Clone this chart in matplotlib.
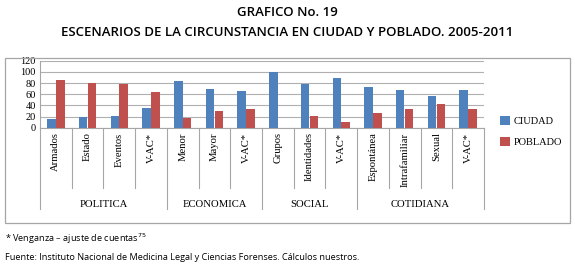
import matplotlib
matplotlib.use('Agg')
import matplotlib.pyplot as plt
from matplotlib.patches import Rectangle
import numpy as np

# datos
categorias = ['Armados', 'Estado', 'Eventos', 'V-AC*',
              'Menor', 'Mayor', 'V-AC*',
              'Grupos', 'Identidades', 'V-AC*',
              'Espontánea', 'Intrafamiliar', 'Sexual', 'V-AC*']
grupos = ['POLITICA', 'ECONOMICA', 'SOCIAL', 'COTIDIANA']
tam_grupos = [4, 3, 3, 4]
ciudad = [15, 19, 21, 36, 83, 70, 66, 100, 79, 89, 73, 67, 57, 67]
poblado = [85, 81, 79, 64, 17, 30, 34, 0, 21, 11, 27, 33, 43, 33]

azul = '#4F81BD'
rojo = '#C0504D'
serif = 'Liberation Serif'

fig = plt.figure(figsize=(5.75, 2.69), dpi=100)
fig.patch.set_facecolor('white')

# caja exterior
fig.patches.append(Rectangle((0.009, 0.172), 0.983, 0.614, transform=fig.transFigure,
                             fill=False, edgecolor='#A6A6A6', linewidth=0.9))

ax = fig.add_axes([0.0696, 0.525, 0.772, 0.249])
x = np.arange(len(categorias))
w = 0.27
ax.bar(x - 0.14, ciudad, w, color=azul, label='CIUDAD', zorder=3)
ax.bar(x + 0.14, poblado, w, color=rojo, label='POBLADO', zorder=3)

ax.set_xlim(-0.5, len(categorias) - 0.5)
ax.set_ylim(0, 120)
ax.set_yticks(range(0, 121, 20))
ax.yaxis.grid(True, color='#B0B0B0', linewidth=0.8, zorder=0)
ax.tick_params(axis='y', length=0, pad=3, labelsize=7.5)
for t in ax.get_yticklabels():
    t.set_fontfamily(serif)
ax.set_xticks([])
for s in ['top', 'right']:
    ax.spines[s].set_visible(False)
ax.spines['left'].set_color('#A6A6A6')
ax.spines['bottom'].set_color('#A6A6A6')
ax.spines['left'].set_linewidth(0.8)
ax.spines['bottom'].set_linewidth(0.8)

tr = ax.get_xaxis_transform()
# etiquetas de categoria
for i, c in enumerate(categorias):
    ax.text(i, -0.07, c, rotation=90, ha='center', va='top', transform=tr,
            fontsize=7.7, fontfamily=serif)

# lineas separadoras
bordes_grupo = np.cumsum([0] + tam_grupos) - 0.5
for b in np.arange(len(categorias) + 1) - 0.5:
    fondo = -1.22 if b in bordes_grupo else -0.9
    ax.plot([b, b], [0, fondo], transform=tr, color='#A6A6A6', linewidth=0.8,
            clip_on=False)

# etiquetas de grupo
inicio = 0
for g, n in zip(grupos, tam_grupos):
    ax.text(inicio + (n - 1) / 2, -1.15, g, ha='center', va='center', transform=tr,
            fontsize=7.7, fontfamily=serif)
    inicio += n

leg = ax.legend(loc='center left', bbox_to_anchor=(1.036, -0.057), frameon=False,
                prop={'family': serif, 'size': 7.5}, handlelength=1.0, handleheight=1.0,
                labelspacing=1.0, handletextpad=0.35, borderpad=0, borderaxespad=0)

# titulos
fig.text(0.5, 0.952, 'GRAFICO No. 19', ha='center', va='center',
         fontsize=9.5, fontweight='semibold', fontfamily='Open Sans')
fig.text(0.5, 0.881, 'ESCENARIOS DE LA CIRCUNSTANCIA EN CIUDAD Y POBLADO. 2005-2011',
         ha='center', va='center', fontsize=9.5, fontweight='semibold', fontfamily='Open Sans')

# notas
fig.text(0.009, 0.112, '* Venganza – ajuste de cuentas$^{75}$', ha='left', va='center',
         fontsize=6.6, fontfamily='Open Sans')
fig.text(0.009, 0.042, 'Fuente: Instituto Nacional de Medicina Legal y Ciencias Forenses. Cálculos nuestros.',
         ha='left', va='center', fontsize=6.6, fontfamily='Open Sans')

fig.savefig('out.png', dpi=100)
